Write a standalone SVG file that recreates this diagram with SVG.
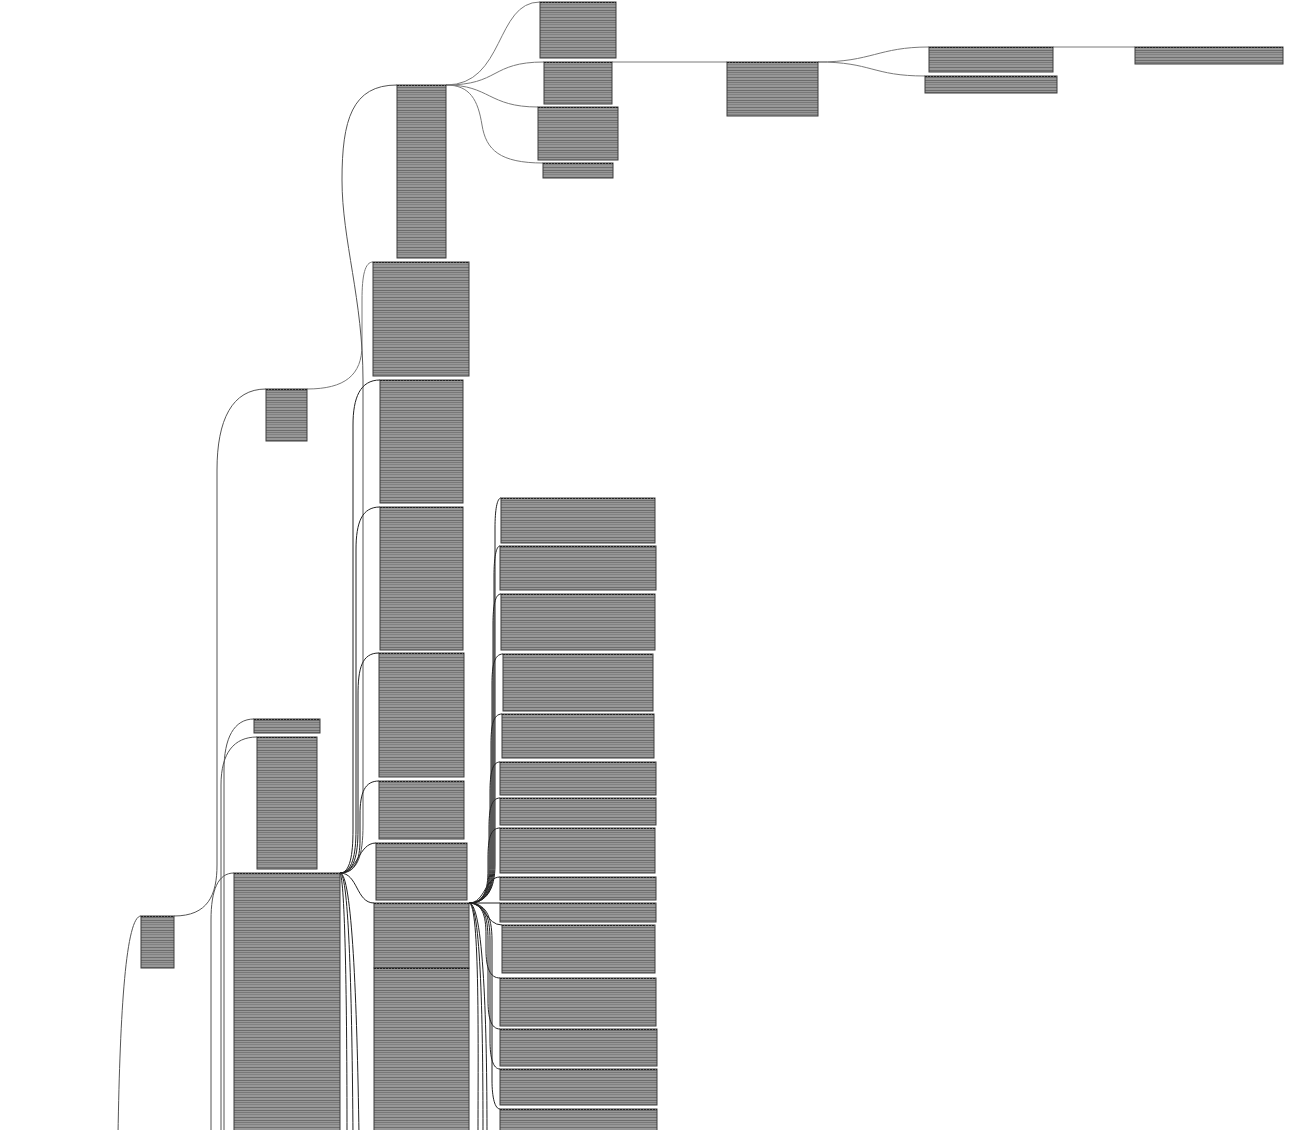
<svg xmlns="http://www.w3.org/2000/svg" width="1292" height="1130" viewBox="0 0 1292 1130">
<defs>
<pattern id="rows" patternUnits="userSpaceOnUse" width="8" height="10">
<rect width="8" height="10" fill="#979797"/>
<rect y="0" width="8" height="1" fill="#6c6c6c"/>
<rect y="2" width="8" height="1" fill="#787878"/>
<rect y="4" width="8" height="1" fill="#828282"/>
<rect y="7" width="8" height="1" fill="#6e6e6e"/>
</pattern>
</defs>
<style>
.n rect.b{fill:url(#rows);stroke:#3c3c3c;stroke-width:1}
.n line.t{stroke:#222;stroke-width:1.2;stroke-dasharray:2 1}
.e path{fill:none;stroke:#555;stroke-width:1}
.e path.g{stroke:#7a7a7a}
.e path.k{stroke:#222}
</style>
<rect width="1292" height="1130" fill="#ffffff"/>

<g id="connectors" class="e">
<path d="M118,1135 C120,1010 126,916 141,916"/>
<path d="M174,916 C208,916 217,895 217,865 L217,470 C217,420 232,389 266,389"/>
<path class="g" d="M307,389 C345,389 362,375 362,345 L362,300 C362,275 365,262 373,262"/>
<path d="M340,873 C358,873 363,855 363,825 L363,380 C363,300 342,240 342,180 C342,120 352,85 397,85"/>
<path class="k" d="M340,873 C350,873 353,855 353,830 L353,425 C353,398 360,380 380,380"/>
<path class="k" d="M340,873 C352,873 356,855 356,830 L356,550 C356,522 362,507 380,507"/>
<path class="k" d="M340,873 C354,873 358,855 358,830 L358,695 C358,668 362,653 379,653"/>
<path class="k" d="M340,873 C355,873 360,860 360,840 L360,815 C360,792 365,781 379,781"/>
<path class="k" d="M340,873 C358,873 358,843 376,843"/>
<path class="k" d="M340,873 C358,873 356,903 374,903"/>
<path class="k" d="M340,873 C352,873 357,1000 359,1135"/>
<path class="k" d="M340,873 C349,873 352,1000 353,1135"/>
<path class="k" d="M340,873 C345,880 347,1000 347,1135"/>
<path d="M224,1135 L224,770 C224,738 234,719 254,719"/>
<path d="M221,1135 L221,785 C221,753 234,737 257,737"/>
<path d="M211,1135 L211,920 C211,890 218,873 234,873"/>
<path class="g" d="M446,85 C505,85 495,2 540,2"/>
<path class="g" d="M446,85 C500,85 490,62 544,62"/>
<path class="g" d="M446,85 C490,85 488,107 538,107"/>
<path class="g" d="M446,85 C470,85 478,100 482,125 C486,150 500,163 543,163"/>
<path class="g" d="M612,62 L727,62"/>
<path class="g" d="M818,62 C872,62 878,47 929,47"/>
<path class="g" d="M818,62 C872,62 872,76 925,76"/>
<path class="g" d="M1053,47 L1135,47"/>
<path class="k" d="M469,903 C486,903 495,890 495,865 L495,528 C495,510 497,498 501,498"/>
<path class="k" d="M469,903 C486,903 494,890 494,865 L494,576 C494,558 496,546 500,546"/>
<path class="k" d="M469,903 C486,903 493,890 493,865 L493,624 C493,606 495,594 501,594"/>
<path class="k" d="M469,903 C486,903 492,890 492,865 L492,684 C492,666 494,654 503,654"/>
<path class="k" d="M469,903 C485,903 491,890 491,865 L491,744 C491,726 493,714 502,714"/>
<path class="k" d="M469,903 C485,903 490,890 490,865 L490,792 C490,774 492,762 500,762"/>
<path class="k" d="M469,903 C484,903 489,890 489,868 L489,828 C489,810 491,798 500,798"/>
<path class="k" d="M469,903 C484,903 488,890 488,870 L488,858 C488,840 490,828 500,828"/>
<path class="k" d="M469,903 C485,903 485,877 500,877"/>
<path class="k" d="M469,903 L500,903"/>
<path class="k" d="M469,903 C485,903 486,925 502,925"/>
<path class="k" d="M469,903 C482,903 486,915 486,935 L486,950 C486,968 490,978 500,978"/>
<path class="k" d="M469,903 C483,903 488,915 488,940 L488,1000 C488,1018 491,1029 500,1029"/>
<path class="k" d="M469,903 C484,903 490,915 490,940 L490,1040 C490,1058 493,1069 500,1069"/>
<path class="k" d="M469,903 C485,903 492,915 492,940 L492,1080 C492,1098 495,1109 500,1109"/>
<path class="k" d="M469,903 C480,903 478,1050 478,1135"/>
<path class="k" d="M469,903 C482,903 483,1050 483,1135"/>
<path class="k" d="M469,903 C485,903 487,1050 487,1135"/>
</g>

<g id="A" class="n"><rect class="b" x="141" y="916" width="33" height="52"/><line class="t" x1="141" y1="916.5" x2="174" y2="916.5"/></g>
<g id="B" class="n"><rect class="b" x="266" y="389" width="41" height="52"/><line class="t" x1="266" y1="389.5" x2="307" y2="389.5"/></g>
<g id="C" class="n"><rect class="b" x="397" y="85" width="49" height="173"/><line class="t" x1="397" y1="85.5" x2="446" y2="85.5"/></g>
<g id="D1" class="n"><rect class="b" x="540" y="2" width="76" height="56"/><line class="t" x1="540" y1="2.5" x2="616" y2="2.5"/></g>
<g id="D2" class="n"><rect class="b" x="544" y="62" width="68" height="42"/><line class="t" x1="544" y1="62.5" x2="612" y2="62.5"/></g>
<g id="D3" class="n"><rect class="b" x="538" y="107" width="80" height="53"/><line class="t" x1="538" y1="107.5" x2="618" y2="107.5"/></g>
<g id="D4" class="n"><rect class="b" x="543" y="163" width="70" height="15"/><line class="t" x1="543" y1="163.5" x2="613" y2="163.5"/></g>
<g id="E" class="n"><rect class="b" x="727" y="62" width="91" height="54"/><line class="t" x1="727" y1="62.5" x2="818" y2="62.5"/></g>
<g id="F1" class="n"><rect class="b" x="929" y="47" width="124" height="25"/><line class="t" x1="929" y1="47.5" x2="1053" y2="47.5"/></g>
<g id="F2" class="n"><rect class="b" x="925" y="76" width="132" height="17"/><line class="t" x1="925" y1="76.5" x2="1057" y2="76.5"/></g>
<g id="G" class="n"><rect class="b" x="1135" y="47" width="148" height="17"/><line class="t" x1="1135" y1="47.5" x2="1283" y2="47.5"/></g>
<g id="H1" class="n"><rect class="b" x="373" y="262" width="96" height="114"/><line class="t" x1="373" y1="262.5" x2="469" y2="262.5"/></g>
<g id="H2" class="n"><rect class="b" x="380" y="380" width="83" height="123"/><line class="t" x1="380" y1="380.5" x2="463" y2="380.5"/></g>
<g id="H3" class="n"><rect class="b" x="380" y="507" width="83" height="143"/><line class="t" x1="380" y1="507.5" x2="463" y2="507.5"/></g>
<g id="H4" class="n"><rect class="b" x="379" y="653" width="85" height="124"/><line class="t" x1="379" y1="653.5" x2="464" y2="653.5"/></g>
<g id="H5" class="n"><rect class="b" x="379" y="781" width="85" height="58"/><line class="t" x1="379" y1="781.5" x2="464" y2="781.5"/></g>
<g id="H6" class="n"><rect class="b" x="376" y="843" width="91" height="57"/><line class="t" x1="376" y1="843.5" x2="467" y2="843.5"/></g>
<g id="H7" class="n"><rect class="b" x="374" y="903" width="95" height="65"/><line class="t" x1="374" y1="903.5" x2="469" y2="903.5"/></g>
<g id="H8" class="n"><rect class="b" x="374" y="968" width="95" height="170"/><line class="t" x1="374" y1="968.5" x2="469" y2="968.5"/></g>
<g id="I1" class="n"><rect class="b" x="254" y="719" width="66" height="14"/><line class="t" x1="254" y1="719.5" x2="320" y2="719.5"/></g>
<g id="I2" class="n"><rect class="b" x="257" y="737" width="60" height="132"/><line class="t" x1="257" y1="737.5" x2="317" y2="737.5"/></g>
<g id="I3" class="n"><rect class="b" x="234" y="873" width="106" height="265"/><line class="t" x1="234" y1="873.5" x2="340" y2="873.5"/></g>
<g id="J1" class="n"><rect class="b" x="501" y="498" width="154" height="45"/><line class="t" x1="501" y1="498.5" x2="655" y2="498.5"/></g>
<g id="J2" class="n"><rect class="b" x="500" y="546" width="156" height="44"/><line class="t" x1="500" y1="546.5" x2="656" y2="546.5"/></g>
<g id="J3" class="n"><rect class="b" x="501" y="594" width="154" height="56"/><line class="t" x1="501" y1="594.5" x2="655" y2="594.5"/></g>
<g id="J4" class="n"><rect class="b" x="503" y="654" width="150" height="57"/><line class="t" x1="503" y1="654.5" x2="653" y2="654.5"/></g>
<g id="J5" class="n"><rect class="b" x="502" y="714" width="152" height="44"/><line class="t" x1="502" y1="714.5" x2="654" y2="714.5"/></g>
<g id="J6" class="n"><rect class="b" x="500" y="762" width="156" height="33"/><line class="t" x1="500" y1="762.5" x2="656" y2="762.5"/></g>
<g id="J7" class="n"><rect class="b" x="500" y="798" width="156" height="27"/><line class="t" x1="500" y1="798.5" x2="656" y2="798.5"/></g>
<g id="J8" class="n"><rect class="b" x="500" y="828" width="155" height="45"/><line class="t" x1="500" y1="828.5" x2="655" y2="828.5"/></g>
<g id="J9" class="n"><rect class="b" x="500" y="877" width="156" height="23"/><line class="t" x1="500" y1="877.5" x2="656" y2="877.5"/></g>
<g id="J10" class="n"><rect class="b" x="500" y="903" width="156" height="19"/><line class="t" x1="500" y1="903.5" x2="656" y2="903.5"/></g>
<g id="J11" class="n"><rect class="b" x="502" y="925" width="153" height="48"/><line class="t" x1="502" y1="925.5" x2="655" y2="925.5"/></g>
<g id="J12" class="n"><rect class="b" x="500" y="978" width="156" height="48"/><line class="t" x1="500" y1="978.5" x2="656" y2="978.5"/></g>
<g id="J13" class="n"><rect class="b" x="500" y="1029" width="157" height="37"/><line class="t" x1="500" y1="1029.5" x2="657" y2="1029.5"/></g>
<g id="J14" class="n"><rect class="b" x="500" y="1069" width="157" height="36"/><line class="t" x1="500" y1="1069.5" x2="657" y2="1069.5"/></g>
<g id="J15" class="n"><rect class="b" x="500" y="1109" width="157" height="30"/><line class="t" x1="500" y1="1109.5" x2="657" y2="1109.5"/></g>
</svg>
